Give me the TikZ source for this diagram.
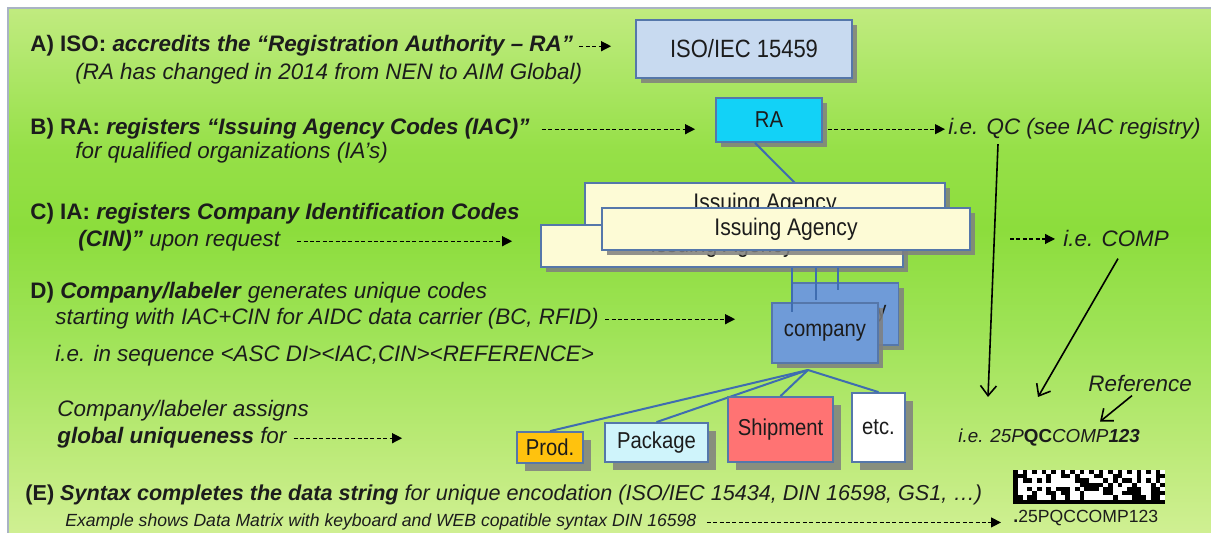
\documentclass[tikz,border=0pt]{standalone}
\usepackage{fontspec}
\setmainfont{Liberation Sans}
\newfontfamily\narrowfam[FakeStretch=0.88]{Liberation Sans}
\usetikzlibrary{arrows.meta,shadows}

\definecolor{ink}{HTML}{1C1C1C}
\definecolor{frame}{HTML}{A9B3C4}
\definecolor{boxedge}{HTML}{5577AA}
\definecolor{linkblue}{HTML}{3F6DB0}
\definecolor{shadowgray}{HTML}{7F7F7F}
\definecolor{isofill}{HTML}{C8DAF0}
\definecolor{rafill}{HTML}{12D2F7}
\definecolor{iafill}{HTML}{FDFBD6}
\definecolor{cmpfill}{HTML}{6F9BD8}
\definecolor{prodfill}{HTML}{FFC20E}
\definecolor{pkgfill}{HTML}{CFF4FB}
\definecolor{shipfill}{HTML}{FF7373}
\definecolor{bgA}{HTML}{F4F9D0}
\definecolor{bgB}{HTML}{E8F6B8}
\definecolor{bgC}{HTML}{D8F29E}
\definecolor{bgD}{HTML}{BCEA78}
\definecolor{bgE}{HTML}{9EE356}
\definecolor{bgF}{HTML}{8CDD3C}
\definecolor{bgG}{HTML}{96E048}
\definecolor{bgH}{HTML}{B4E870}
\definecolor{bgI}{HTML}{D2EF95}
\definecolor{bgJ}{HTML}{EEF8C0}
\definecolor{bgK}{HTML}{FAFCD8}

\pgfdeclareverticalshading{slidebg}{100bp}{color(0bp)=(bgA); color(10bp)=(bgB);
  color(21.5bp)=(bgC); color(33bp)=(bgD); color(44.4bp)=(bgE); color(54bp)=(bgF);
  color(61.5bp)=(bgG); color(71bp)=(bgH); color(80.6bp)=(bgI); color(90bp)=(bgJ);
  color(100bp)=(bgK)}

\tikzset{
  boxbase/.style={draw=boxedge, line width=0.9pt, inner sep=0pt, text=ink,
    font=\narrowfam\fontsize{11.5}{13}\selectfont},
  box/.style={boxbase, drop shadow={shadow xshift=2.5pt, shadow yshift=-2.5pt,
    fill=shadowgray, opacity=0.85}},
  tag/.style={boxbase, drop shadow={shadow xshift=4pt, shadow yshift=-4pt,
    fill=shadowgray, opacity=0.85}},
  agency/.style={box, fill=iafill, minimum height=21pt,
    font=\narrowfam\fontsize{12}{13}\selectfont},
  txt/.style={anchor=base west, inner sep=0pt, text=ink, font=\fontsize{11.2}{13}\selectfont},
  small/.style={txt, font=\fontsize{8.8}{10}\selectfont},
  link/.style={draw=linkblue, line width=1pt},
  dasharrow/.style={line width=0.6pt, dash pattern=on 2pt off 1.2pt,
    -{Triangle[length=5pt,width=5pt]}},
  pointer/.style={line width=0.8pt, -{Straight Barb[length=5pt,width=8pt]}},
}

\begin{document}
\begin{tikzpicture}[x=0.5pt,y=-0.5pt]
\useasboundingbox (0,0) rectangle (1211,533);
% slide background
\fill[white] (0,0) rectangle (1211,533);
\shade[shading=slidebg] (8,8) rectangle (1211,533);
\draw[frame, line width=1pt] (8,533) -- (8,8) -- (1211,8);

% steps A to E
\node[txt] (lineA) at (30,52) {\textbf{A) ISO: \textit{accredits the “Registration Authority – RA”}}};
\node[txt] (lineA2) at (75,80) {\textit{(RA has changed in 2014 from NEN to AIM Global)}};
\node[txt] (lineB) at (30,135) {\textbf{B) RA: \textit{registers “Issuing Agency Codes (IAC)”}}};
\node[txt] (lineB2) at (75,159) {\textit{for qualified organizations (IA’s)}};
\node[txt] (lineC) at (30,220) {\textbf{C) IA: \textit{registers Company Identification Codes}}};
\node[txt] (lineC2) at (78,247) {\textit{\textbf{(CIN)”} upon request}};
\node[txt] (lineD) at (30,299) {\textbf{D) \textit{Company/labeler}} \textit{generates unique codes}};
\node[txt] (lineD2) at (55,325) {\textit{starting with IAC+CIN for AIDC data carrier (BC, RFID)}};
\node[txt] (lineD3) at (55,362) {\textit{i.e. in sequence <ASC DI><IAC,CIN><REFERENCE>}};
\node[txt] (assign) at (57,417) {\textit{Company/labeler assigns}};
\node[txt] (global) at (57,444) {\textit{\textbf{global uniqueness} for}};
\node[txt, font=\fontsize{10.8}{13}\selectfont] (lineE) at (25,501) {\textbf{(E) \textit{Syntax completes the data string}} \textit{for unique encodation (ISO/IEC 15434, DIN 16598, GS1, …)}};
\node[small] (example) at (65,527) {\textit{Example shows Data Matrix with keyboard and WEB copatible syntax DIN 16598}};

% registry chain
\node[box, fill=isofill, minimum width=108pt, minimum height=29pt,
  font=\narrowfam\fontsize{12.5}{14}\selectfont] (iso) at (744,49) {ISO/IEC 15459};
\node[box, fill=rafill, minimum width=53pt, minimum height=22pt] (ra) at (769,120) {RA};
\draw[link] ([xshift=-7pt]ra.south) -- (795,183);
\node[agency, minimum width=180pt] (iaBack) at (765,204) {Issuing Agency};
\node[agency, minimum width=181pt] (iaLow) at (722,246) {Issuing Agency};
\node[agency, minimum width=184pt] (iaFront) at (786,229) {Issuing Agency};
\node[box, fill=cmpfill, minimum width=53pt, minimum height=31pt] (cmpBack) at (845.5,314) {company};
\node[box, fill=cmpfill, minimum width=53pt, minimum height=30pt] (cmpFront) at (825,333) {company};
\draw[link] (iaLow.south -| 792,0) -- (792,312);
\draw[link] (iaLow.south -| 816,0) -- (816,300);
\draw[link] (iaLow.south -| 838,0) -- (838,290);

% items
\coordinate (fork) at (808,370);
\node[tag, fill=prodfill, minimum width=33pt, minimum height=15.5pt] (prod) at (550,447.5) {Prod.};
\node[tag, fill=pkgfill, minimum width=51.5pt, minimum height=19.5pt] (pkg) at (656.5,442.5) {Package};
\draw[link] (fork) -- (prod.north);
\draw[link] (fork) -- (pkg.north);
\node[tag, fill=shipfill, minimum width=52.5pt, minimum height=32.5pt] (ship) at (780.5,429.5) {Shipment};
\node[tag, fill=white, minimum width=26.5pt, minimum height=34.5pt] (etc) at (878.5,427.5) {etc.};
\draw[link] (fork) -- (ship.north);
\draw[link] (fork) -- (etc.north);

% right hand notes
\node[txt] (qc) at (948,135) {\textit{i.e. QC (see IAC registry)}};
\node[txt] (comp) at (1063,247) {\textit{i.e. COMP}};
\node[txt] (refword) at (1088,392) {\textit{Reference}};
\node[txt, font=\fontsize{9.4}{11}\selectfont] (code) at (958,443) {\textit{i.e. 25P}\textbf{QC}\textit{COMP\textbf{123}}};
\node[small] (dmtext) at (1013,523) {\textbf{.}25PQCCOMP123};

% dashed arrows
\draw[dasharrow, shorten <=3pt, shorten >=12pt] (lineA.east) -- (lineA.east -| iso.west);
\draw[dasharrow, shorten <=6pt, shorten >=10pt] (lineB.east) -- (lineB.east -| ra.west);
\draw[dasharrow, shorten <=2.5pt, shorten >=1.5pt] (ra.east |- qc.west) -- (qc.west);
\draw[dasharrow, shorten <=8pt, shorten >=14pt] (lineC2.east) -- (lineC2.east -| iaLow.west);
\draw[dasharrow, shorten >=4pt] ([xshift=-26.5pt]comp.west) -- (comp.west);
\draw[dasharrow, shorten <=3pt, shorten >=18pt] (lineD2.east) -- (lineD2.east -| cmpFront.west);
\draw[dasharrow, shorten <=3pt, shorten >=57pt] (global.east) -- (global.east -| prod.west);
\draw[dasharrow, shorten <=5pt, shorten >=6pt] (example.east) -- (example.east -| dmtext.west);

% pointers to the code
\draw[pointer] ([xshift=25pt,yshift=-2pt]qc.south west) -- ([xshift=15pt,yshift=16pt]code.north west);
\draw[pointer] ([xshift=27.5pt,yshift=-5.5pt]comp.south west) -- ([xshift=40pt,yshift=16pt]code.north west);
\draw[pointer] ([xshift=22pt,yshift=-1.5pt]refword.south west) -- ([xshift=6pt,yshift=-14.5pt]refword.south west);

% data matrix
\fill[white] (1013,470) rectangle (1165,504);
\fill[black] (1013,470) rectangle (1017.75,504);
\fill[black] (1013,499.75) rectangle (1165,504);
\foreach \c in {0,2,...,30} \fill[black] ({1013+\c*4.75},470) rectangle ++(4.75,4.25);
\foreach \r in {1,3,5,7} \fill[black] (1160.25,{470+\r*4.25}) rectangle ++(4.75,4.25);
\pgfmathsetseed{1211}
\foreach \c in {1,...,30}{
  \foreach \r in {1,...,6}{
    \pgfmathrandominteger{\bit}{0}{1}
    \ifnum\bit=1 \fill[black] ({1013+\c*4.75},{470+\r*4.25}) rectangle ++(4.75,4.25);\fi
  }
}
\end{tikzpicture}
\end{document}
